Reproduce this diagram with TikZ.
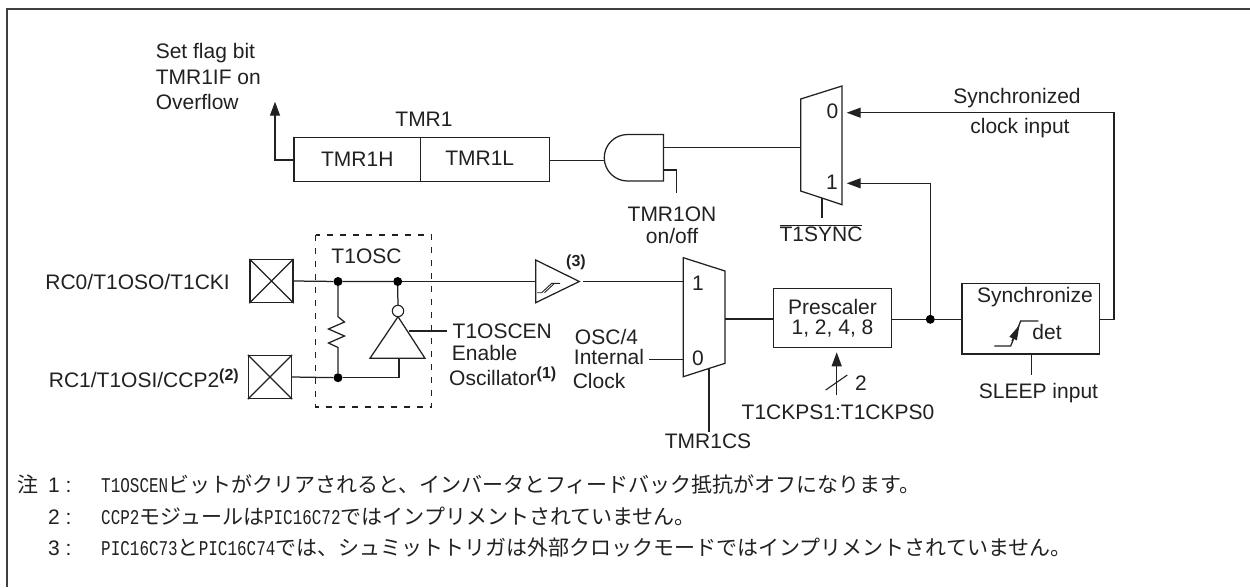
\documentclass[tikz,border=0pt]{standalone}
\usepackage{fontspec}
\setmainfont{Liberation Sans}
\newfontfamily\cjk{Noto Sans CJK JP}
\newfontfamily\mono{Liberation Mono}[FakeStretch=0.76]
\usetikzlibrary{arrows.meta}
\definecolor{ink}{gray}{0.13}
\tikzset{
  wire/.style={line width=1.25pt,draw=ink},
  arr/.style={wire,-{Triangle[length=14pt,width=10pt]}},
  lbl/.style={inner sep=0pt,font=\fontsize{21pt}{25pt}\selectfont,text=ink,align=center},
  blk/.style={wire,fill=white,inner sep=0pt},
  dot/.style={circle,fill=black,inner sep=0pt,minimum size=9pt,draw=none},
  note/.style={inner sep=0pt,anchor=base west,font=\fontsize{21pt}{25pt}\selectfont,text=ink},
}
\newcommand{\nt}[1]{{\mono #1}}
\newcommand{\supb}[1]{\raisebox{7pt}{\fontsize{16pt}{16pt}\selectfont\bfseries #1}}
\begin{document}
\begin{tikzpicture}[x=1pt,y=-1pt]
\useasboundingbox (0,0) rectangle (1250,587);
\fill[white] (0,0) rectangle (1250,587);
\draw[line width=2pt,draw=black!75] (7,587) -- (7,9) -- (1250,9);
% TMR1
\node[blk,minimum width=255.2pt,minimum height=44pt,anchor=north west] (tmr) at (293.4,137) {};
\coordinate (tmrtop) at (420.8,137);
\coordinate (tmrbot) at (420.8,181);
\draw[wire] (tmrtop) -- (tmrbot);
\node[lbl] (tmrh) at (357.3,159) {TMR1H};
\node[lbl] (tmrl) at (479.7,158) {TMR1L};
\node[lbl] (tmrt) at (424,119.3) {TMR1};
\node[lbl,anchor=west] (flag1) at (155.6,52.7) {Set flag bit};
\node[lbl,anchor=west] (flag2) at (155.6,77.7) {TMR1IF on};
\node[lbl,anchor=west] (flag3) at (155.6,102.3) {Overflow};
\coordinate (flagend) at (275,101.7);
\draw[arr] (tmr.west |- 0,160) -- (275,160) -- (flagend);
% AND
\draw[blk] (663.4,134.5) -- (663.4,181) -- (627.5,181) arc[start angle=90,end angle=270,radius=23.25] -- cycle;
\coordinate (andin) at (604.2,160.5);
\coordinate (andout) at (663.4,147.5);
\coordinate (andon) at (663.4,170);
\draw[wire] (tmr.east |- andin) -- (andin);
\coordinate (tmron) at (676.8,193.3);
\draw[wire] (andon) -- (676.8,170) -- (tmron);
\node[lbl] (tmronl) at (672,214) {TMR1ON};
\node[lbl] (onoff) at (672,235.5) {on/off};
% upper mux
\draw[blk] (800.7,99) -- (842,86) -- (842,204.7) -- (800.7,191) -- cycle;
\coordinate (mtl) at (800.7,147.5);
\draw[wire] (andout) -- (mtl);
\node[lbl] (m0) at (832.5,111.7) {0};
\node[lbl] (m1) at (832,182.7) {1};
\coordinate (msel) at (822,198);
\coordinate (syncin) at (822,218.3);
\draw[wire] (msel) -- (syncin);
\node[lbl] (tsync) at (821,233) {$\overline{\hbox{T1SYNC}}$};
% pads
\node[blk,minimum size=43pt] (pad1) at (271.5,281) {};
\draw[line width=1.1pt,draw=ink] (pad1.north west) -- (pad1.south east) (pad1.north east) -- (pad1.south west);
\node[blk,minimum size=43pt] (pad2) at (270,377) {};
\draw[line width=1.1pt,draw=ink] (pad2.north west) -- (pad2.south east) (pad2.north east) -- (pad2.south west);
\node[lbl,anchor=east] (p1l) at (230,282) {RC0/T1OSO/T1CKI};
\node[lbl,anchor=east] (p2l) at (239,378) {RC1/T1OSI/CCP2\supb{(2)}};
% T1OSC
\draw[line width=1.1pt,draw=ink,dash pattern=on 6pt off 7pt] (315.5,235) rectangle (431.5,407);
\node[lbl] (tosc) at (366.5,256.7) {T1OSC};
\node[dot] (j1) at (338,281.5) {};
\node[dot] (j2) at (397.7,281.5) {};
\node[dot] (j3) at (338,377.7) {};
\draw[wire] (pad1.east) -- (j1) -- (j2);
\draw[wire] (pad2.east) -- (j3);
\draw[wire,line join=miter] (j1) -- (338,316.7) -- (344.5,322) -- (328.5,329) -- (344.5,336) -- (328.5,343) -- (338,347.5) -- (j3);
% inverter
\draw[blk] (398,316.7) -- (425,358.3) -- (370,358.3) -- cycle;
\node[circle,draw=ink,line width=1.1pt,fill=white,inner sep=0pt,minimum size=11.4pt] (bub) at (398,311) {};
\draw[wire] (j2) -- (bub);
\coordinate (invin) at (399,358.3);
\draw[wire] (j3) -- (399,377.7) -- (invin);
\coordinate (invsd) at (409.3,331);
\coordinate (enin) at (447,331);
\draw[wire] (invsd) -- (enin);
\node[lbl,anchor=west] (en1) at (452.5,331.5) {T1OSCEN};
\node[lbl,anchor=west] (en2) at (451.7,353) {Enable};
\node[lbl,anchor=west] (en3) at (449,376) {Oscillator\supb{(1)}};
% Schmitt trigger
\draw[blk] (535.7,260) -- (579.3,281.5) -- (535.7,302.7) -- cycle;
\draw[line width=0.9pt,draw=ink] (537,292.7) -- (541.7,292.7) -- (551.7,283.3) -- (560,283.3);
\draw[line width=0.9pt,draw=ink] (544.5,292.7) -- (554.5,283.3);
\node[inner sep=0pt,text=ink,font=\fontsize{16pt}{16pt}\selectfont\bfseries] (sch3) at (576,262.7) {(3)};
\coordinate (schin) at (535.7,281.5);
\coordinate (schout) at (582.7,281.5);
\draw[wire] (j2) -- (schin);
% lower mux
\draw[blk] (683.3,257.7) -- (725,271) -- (725,363.3) -- (683.3,376.7) -- cycle;
\coordinate (mb1) at (683.3,281.5);
\coordinate (mb0) at (683.3,359.3);
\coordinate (mbout) at (725,319);
\coordinate (mbsel) at (709,369);
\draw[wire] (schout) -- (mb1);
\node[lbl] (b1) at (698,283) {1};
\node[lbl] (b0) at (698,358) {0};
\coordinate (oscin) at (649,359.3);
\draw[wire] (oscin) -- (mb0);
\node[lbl] (osc1) at (606.5,337) {OSC/4};
\node[lbl] (osc2) at (609,357) {Internal};
\node[lbl] (osc3) at (599,381) {Clock};
\coordinate (csc) at (709,431.7);
\draw[wire] (mbsel) -- (csc);
\node[lbl] (cs) at (708,441.5) {TMR1CS};
% prescaler
\node[blk,lbl,draw=ink,minimum width=118.4pt,minimum height=58.7pt,font=\fontsize{21pt}{19.5pt}\selectfont] (pre) at (832.5,318) {Prescaler\\1, 2, 4, 8};
\draw[wire] (mbout) -- (pre.west |- mbout);
\coordinate (kps) at (836.7,395);
\draw[arr] (kps) -- (836.7,352.3);
\draw[line width=1.1pt,draw=ink] (825.7,390) -- (847.3,375);
\node[lbl] (two) at (861,382.7) {2};
\node[lbl] (kpsl) at (838,412) {T1CKPS1:T1CKPS0};
% synchronizer
\node[blk,minimum width=137.3pt,minimum height=70.7pt] (syn) at (1030.7,318.7) {};
\node[lbl] (syt) at (1035,297) {Synchronize};
\node[lbl] (det) at (1047,332) {det};
\draw[wire] (994.3,346) -- (1010.7,346) -- (1020.7,321) -- (1038.3,321);
\draw[arr,-{Triangle[length=15pt,width=8pt]}] (1012,341) -- (1019.5,325);
\node[dot] (j4) at (930.3,319.3) {};
\draw[wire] (pre.east |- j4) -- (j4) -- (syn.west |- j4);
\coordinate (slp) at (1031.3,375);
\draw[wire] (syn.south -| slp) -- (slp);
\node[lbl] (slpl) at (1038.5,393) {SLEEP input};
\coordinate (in1) at (846.7,183.3);
\coordinate (in0) at (846.7,112.7);
\draw[arr] (j4) -- (930.3,183.3) -- (in1);
\draw[arr] (syn.east |- j4) -- (1114,319.3) -- (1114,112.7) -- (in0);
\node[lbl] (sy1) at (1017,98) {Synchronized};
\node[lbl] (sy2) at (1020,128) {clock input};
% notes
\node[note] (n0) at (17,492) {\cjk 注};
\node[note] (n1) at (48,492) {1 :};
\node[note] (n2) at (48,524.5) {2 :};
\node[note] (n3) at (48,555.5) {3 :};
\node[note] (t1) at (101,492) {\nt{T1OSCEN}{\cjk ビットがクリアされると、インバータとフィードバック抵抗がオフになります。}};
\node[note] (t2) at (101,524.5) {\nt{CCP2}{\cjk モジュールは}\nt{PIC16C72}{\cjk ではインプリメントされていません。}};
\node[note] (t3) at (101,555.5) {\nt{PIC16C73}{\cjk と}\nt{PIC16C74}{\cjk では、シュミットトリガは外部クロックモードではインプリメントされていません。}};
\end{tikzpicture}
\end{document}
